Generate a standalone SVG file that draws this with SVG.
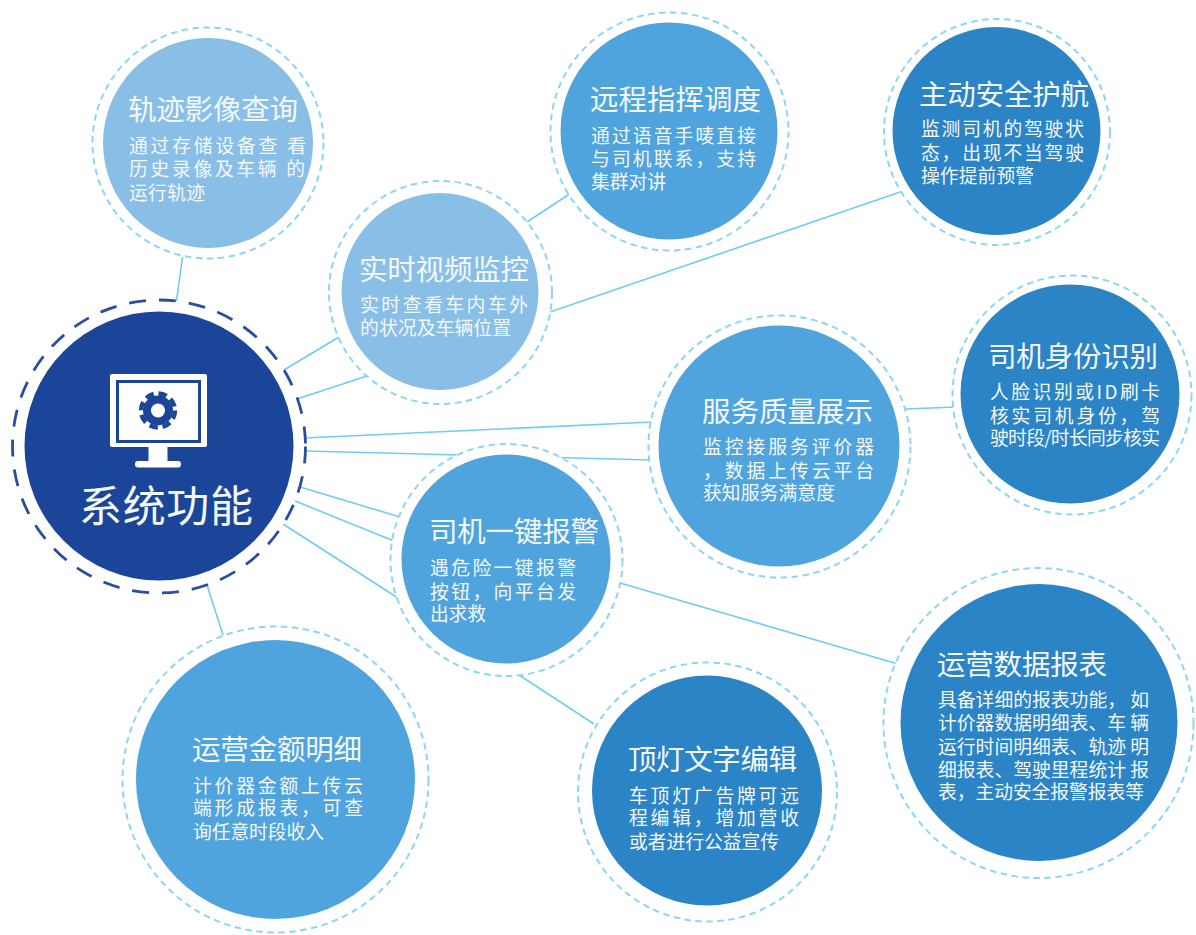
<svg xmlns="http://www.w3.org/2000/svg" width="1196" height="935" viewBox="0 0 1196 935">
<style>
text{font-family:"Noto Sans CJK SC","Noto Sans",sans-serif;fill:#f4f8fc;font-weight:400}
.t{font-size:28.500px}
.d{font-size:18.800px}
.o{fill:#fff;stroke:#8dd6f2;stroke-width:2;stroke-dasharray:6.500 4.500}
.a{fill:#89bfe7}
.b{fill:#4fa4dd}
.c{fill:#2b84c6}
#connectors line{stroke:#6fcdef;stroke-width:1.6}
</style>
<rect width="1196" height="935" fill="#fff"/>
<g id="connectors">
<line x1="176.500" y1="301" x2="182.500" y2="257"/>
<line x1="284" y1="370" x2="339" y2="337"/>
<line x1="297" y1="399" x2="367" y2="376"/>
<line x1="305" y1="438" x2="652" y2="422"/>
<line x1="305" y1="451" x2="652" y2="460"/>
<line x1="300" y1="487" x2="400" y2="517"/>
<line x1="295" y1="501" x2="394" y2="541"/>
<line x1="283" y1="524" x2="398" y2="598"/>
<line x1="207" y1="585" x2="223" y2="635"/>
<line x1="527" y1="222" x2="571" y2="193"/>
<line x1="550" y1="312" x2="903" y2="191"/>
<line x1="906" y1="409" x2="956" y2="407"/>
<line x1="620" y1="583" x2="898" y2="664"/>
<line x1="519" y1="675" x2="594" y2="724"/>
</g>
<g id="node-center">
<circle cx="159" cy="446.500" r="146.500" fill="#fff" stroke="#2a4e9f" stroke-width="2.800" stroke-dasharray="17 13"/>
<circle cx="159" cy="446" r="134.500" fill="#1b4599"/>
<rect x="110" y="374" width="97" height="73" rx="2" fill="#fff"/>
<rect x="117.500" y="381.500" width="82" height="60" fill="none" stroke="#1b4599" stroke-width="3"/>
<rect x="148.500" y="447" width="19" height="15" fill="#fff"/>
<rect x="135" y="461" width="46" height="6.500" rx="3" fill="#fff"/>
<circle cx="158" cy="410.500" r="15" fill="#1b4599"/>
<circle cx="158" cy="410.500" r="17" fill="none" stroke="#1b4599" stroke-width="4.500" stroke-dasharray="8.500 4.850"/>
<circle cx="158" cy="410.500" r="7" fill="#fff"/>
<text x="79" y="522" font-size="43" textLength="174">系统功能</text>
</g>
<g id="node-trace">
<circle class="o" cx="208" cy="143" r="115.500"/><circle class="a" cx="208" cy="143" r="105"/>
<text class="t" x="128" y="120" textLength="170">轨迹影像查询</text>
<text class="d" x="129" y="152.500" textLength="177" xml:space="preserve">通过存储设备查 看</text>
<text class="d" x="129" y="175.500" textLength="176" xml:space="preserve">历史录像及车辆 的</text>
<text class="d" x="129" y="199.500" textLength="76">运行轨迹</text>
</g>
<g id="node-video">
<circle class="o" cx="440.500" cy="292.500" r="111.500"/><circle class="a" cx="440" cy="291.500" r="98.500"/>
<text class="t" x="359" y="280" textLength="170">实时视频监控</text>
<text class="d" x="360" y="311.500" textLength="168">实时查看车内车外</text>
<text class="d" x="360" y="334.500" textLength="151">的状况及车辆位置</text>
</g>
<g id="node-dispatch">
<circle class="o" cx="669.500" cy="131.500" r="119"/><circle class="b" cx="669" cy="131" r="108.500"/>
<text class="t" x="590" y="110" textLength="171">远程指挥调度</text>
<text class="d" x="591" y="143" textLength="165">通过语音手唛直接</text>
<text class="d" x="591" y="166" textLength="165">与司机联系，支持</text>
<text class="d" x="591" y="189" textLength="75">集群对讲</text>
</g>
<g id="node-safety">
<circle class="o" cx="997" cy="132" r="113"/><circle class="c" cx="996.500" cy="131" r="104"/>
<text class="t" x="919" y="105" textLength="170">主动安全护航</text>
<text class="d" x="921" y="135.500" textLength="163">监测司机的驾驶状</text>
<text class="d" x="921" y="159.500" textLength="163">态，出现不当驾驶</text>
<text class="d" x="921" y="182.500" textLength="113">操作提前预警</text>
</g>
<g id="node-identity">
<circle class="o" cx="1072" cy="395" r="119.500"/><circle class="c" cx="1070" cy="394" r="109.500"/>
<text class="t" x="988" y="367" textLength="170">司机身份识别</text>
<text class="d" x="990" y="398.500" textLength="170">人脸识别或ID刷卡</text>
<text class="d" x="990" y="422.500" textLength="170">核实司机身份，驾</text>
<text class="d" x="990" y="444.500" textLength="170">驶时段/时长同步核实</text>
</g>
<g id="node-service">
<circle class="o" cx="779.500" cy="446.500" r="131"/><circle class="b" cx="779" cy="446" r="120.500"/>
<text class="t" x="702" y="422" textLength="171">服务质量展示</text>
<text class="d" x="703" y="454" textLength="171">监控接服务评价器</text>
<text class="d" x="703" y="478" textLength="171">，数据上传云平台</text>
<text class="d" x="703" y="500" textLength="132">获知服务满意度</text>
</g>
<g id="node-alarm">
<circle class="o" cx="506.500" cy="560" r="116"/><circle class="b" cx="506" cy="559" r="104.500"/>
<text class="t" x="429" y="542" textLength="170">司机一键报警</text>
<text class="d" x="430" y="574.500" textLength="146">遇危险一键报警</text>
<text class="d" x="430" y="598.500" textLength="146">按钮，向平台发</text>
<text class="d" x="430" y="620.500" textLength="56">出求救</text>
</g>
<g id="node-amount">
<circle class="o" cx="275.500" cy="779.500" r="153"/><circle class="b" cx="275.500" cy="779.500" r="139.500"/>
<text class="t" x="192" y="760" textLength="170">运营金额明细</text>
<text class="d" x="193" y="792.500" textLength="170">计价器金额上传云</text>
<text class="d" x="193" y="814.500" textLength="170">端形成报表，可查</text>
<text class="d" x="193" y="838.500" textLength="131">询任意时段收入</text>
</g>
<g id="node-toplight">
<circle class="o" cx="707.500" cy="792" r="129.500"/><circle class="c" cx="707" cy="790.500" r="115"/>
<text class="t" x="628" y="770" textLength="169">顶灯文字编辑</text>
<text class="d" x="629" y="802.500" textLength="170">车顶灯广告牌可远</text>
<text class="d" x="629" y="824.500" textLength="170">程编辑，增加营收</text>
<text class="d" x="629" y="848.500" textLength="150">或者进行公益宣传</text>
</g>
<g id="node-report">
<circle class="o" cx="1038.500" cy="723" r="155"/><circle class="c" cx="1039" cy="722.500" r="138.500"/>
<text class="t" x="937" y="675" textLength="170">运营数据报表</text>
<text class="d" x="938" y="706.500" textLength="211" xml:space="preserve">具备详细的报表功能， 如</text>
<text class="d" x="938" y="729.500" textLength="211" xml:space="preserve">计价器数据明细表、车 辆</text>
<text class="d" x="938" y="753.500" textLength="211" xml:space="preserve">运行时间明细表、轨迹 明</text>
<text class="d" x="938" y="776.500" textLength="211" xml:space="preserve">细报表、驾驶里程统计 报</text>
<text class="d" x="938" y="798.500" textLength="206">表，主动安全报警报表等</text>
</g>
</svg>
